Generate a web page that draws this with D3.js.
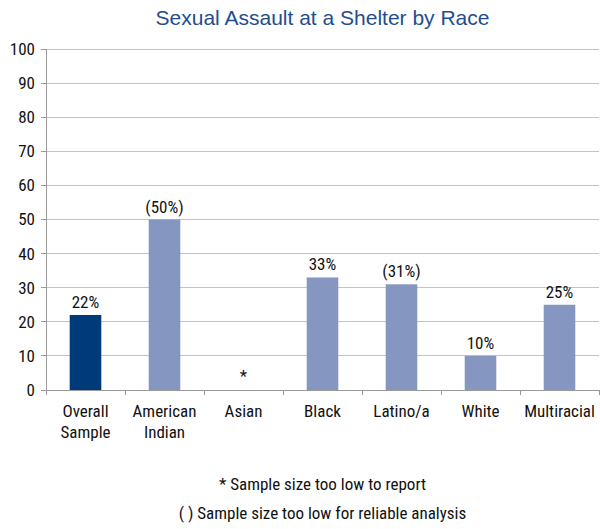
<!DOCTYPE html>
<html><head><meta charset="utf-8">
<script src="https://cdn.jsdelivr.net/npm/d3@7"></script>
<style>
body{margin:0;background:#fff;}
svg text{font-family:"Liberation Sans Narrow","Arial Narrow","Roboto Condensed",Roboto,sans-serif;}
</style></head><body>
<svg id="chart" width="600" height="529"></svg>
<script>
const categories = ["Overall\nSample","American\nIndian","Asian","Black","Latino/a","White","Multiracial"];
const values = [22, 50, null, 33, 31, 10, 25];
const valueLabels = ["22%","(50%)","*","33%","(31%)","10%","25%"];
const yTicks = [0,10,20,30,40,50,60,70,80,90,100];
const footnotes = ["* Sample size too low to report","( ) Sample size too low for reliable analysis"];
const title = "Sexual Assault at a Shelter by Race";

const svg = d3.select("#chart");
const m = {left:46, right:1, top:49, bottom:139};
const W = 600, H = 529;
const x = d3.scaleBand().domain(categories).range([m.left, W-m.right]).paddingInner(0.6).paddingOuter(0.3);
const y = d3.scaleLinear().domain([0,100]).range([H-m.bottom, m.top]);

svg.append("g").selectAll("line").data(yTicks).join("line")
  .attr("x1", m.left).attr("x2", W-m.right)
  .attr("y1", d=>y(d)).attr("y2", d=>y(d))
  .attr("stroke", "#c3c3c3").attr("stroke-width", 1).attr("shape-rendering","crispEdges");

svg.append("line").attr("x1", m.left).attr("x2", m.left).attr("y1", y(100)).attr("y2", y(0))
  .attr("stroke", "#9a9a9a").attr("shape-rendering","crispEdges");
svg.append("g").selectAll("text").data(yTicks).join("text")
  .attr("x", m.left-11).attr("y", d=>y(d)).attr("dy","0.35em")
  .attr("text-anchor","end").attr("font-size", 17).attr("fill","#111")
  .text(d=>d);
svg.append("g").selectAll("line").data(yTicks).join("line")
  .attr("x1", m.left-5).attr("x2", m.left).attr("y1", d=>y(d)).attr("y2", d=>y(d))
  .attr("stroke","#9a9a9a").attr("shape-rendering","crispEdges");

svg.append("line").attr("x1", m.left).attr("x2", W-m.right).attr("y1", y(0)).attr("y2", y(0))
  .attr("stroke","#9a9a9a").attr("shape-rendering","crispEdges");
const tickXs = d3.range(categories.length+1).map(i => m.left + i*(W-m.right-m.left)/categories.length);
svg.append("g").selectAll("line").data(tickXs).join("line")
  .attr("x1", d=>d).attr("x2", d=>d).attr("y1", y(0)).attr("y2", y(0)+5)
  .attr("stroke","#9a9a9a").attr("shape-rendering","crispEdges");

svg.append("g").selectAll("rect").data(categories.map((c,i)=>({c, v:values[i], i})).filter(d=>d.v!=null)).join("rect")
  .attr("x", d=>x(d.c)).attr("width", x.bandwidth())
  .attr("y", d=>y(d.v)).attr("height", d=>y(0)-y(d.v))
  .attr("fill", d=>d.i===0 ? "#003a78" : "#8597c0");

svg.append("g").selectAll("text").data(categories.map((c,i)=>({c, v:values[i], l:valueLabels[i]}))).join("text")
  .attr("x", d=>x(d.c)+x.bandwidth()/2)
  .attr("y", d=> d.v==null ? y(0)-8 : y(d.v)-7)
  .attr("text-anchor","middle").attr("font-size", 17).attr("fill","#111")
  .text(d=>d.l);

const xl = svg.append("g").selectAll("text").data(categories).join("text")
  .attr("x", d=>x(d)+x.bandwidth()/2).attr("y", y(0)+27)
  .attr("text-anchor","middle").attr("font-size", 17).attr("fill","#111");
xl.each(function(d){
  const t = d3.select(this);
  d.split("\n").forEach((line,i)=>{
    t.append("tspan").attr("x", x(d)+x.bandwidth()/2).attr("dy", i===0?0:21).text(line);
  });
});

svg.append("text").attr("x", (m.left + W-m.right)/2).attr("y", 25)
  .attr("text-anchor","middle").attr("font-size", 21).attr("fill","#1f4e8f")
  .style("font-family","'Liberation Sans',Arial,sans-serif")
  .text(title);

svg.append("g").selectAll("text").data(footnotes).join("text")
  .attr("x", (m.left + W-m.right)/2).attr("y", (d,i)=>490+i*29)
  .attr("text-anchor","middle").attr("font-size", 17).attr("fill","#111")
  .text(d=>d);
</script></body></html>
